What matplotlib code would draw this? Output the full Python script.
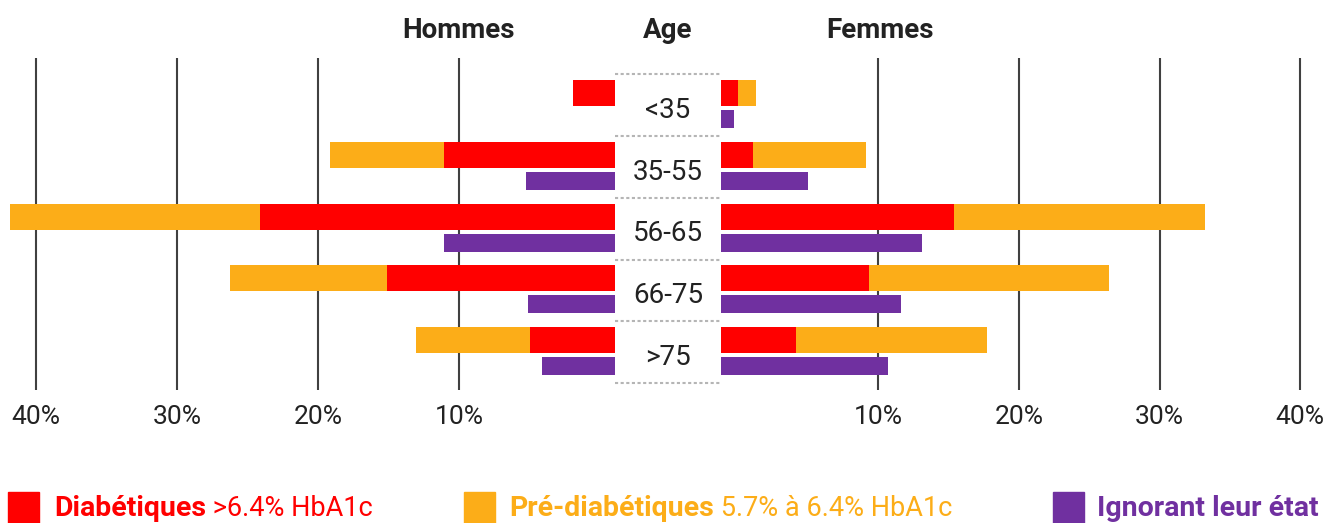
import numpy as np
import matplotlib
matplotlib.use('Agg')
import matplotlib.pyplot as plt
from matplotlib.patches import Rectangle

# donnees (longueur des barres en %)
ages = ['<35', '35-55', '56-65', '66-75', '>75']
hommes_diab = [3.0, 12.1, 25.2, 16.2, 6.0]
hommes_pre = [0.0, 8.1, 17.7, 11.1, 8.1]
hommes_ign = [0.0, 6.3, 12.1, 6.2, 5.2]
femmes_diab = [1.2, 2.3, 16.6, 10.5, 5.3]
femmes_pre = [1.3, 8.0, 17.8, 17.1, 13.6]
femmes_ign = [0.9, 6.2, 14.3, 12.8, 11.9]
ticks = [10, 20, 30, 40]
tick_labels = ['10%', '20%', '30%', '40%']

RED = '#FF0000'
ORANGE = '#FCAD18'
PURPLE = '#7030A0'
GRID = '#404040'
TXT = '#222222'

plt.rcParams['font.family'] = ['Roboto', 'DejaVu Sans']

W, H = 1326, 523
fig = plt.figure(figsize=(W / 100, H / 100), dpi=100)


def box(x0, x1, y0=58, y1=390):
    return [x0 / W, 1 - y1 / H, (x1 - x0) / W, (y1 - y0) / H]


axL = fig.add_axes(box(0, 615))
axC = fig.add_axes(box(615, 721))
axR = fig.add_axes(box(721, 1326))

y = np.arange(len(ages))
ymax = 332 / 61.75

# decalage de la grille par rapport au bord des barres
for ax, diab, pre, ign, shift in [(axL, hommes_diab, hommes_pre, hommes_ign, 1.06),
                                  (axR, femmes_diab, femmes_pre, femmes_ign, 1.19)]:
    ax.barh(y + 0.57, diab, height=0.42, color=RED, zorder=2)
    ax.barh(y + 0.57, pre, left=diab, height=0.42, color=ORANGE, zorder=2)
    ax.barh(y + 0.99, ign, height=0.29, color=PURPLE, zorder=2)
    for t in ticks:
        ax.axvline(t + shift, color=GRID, lw=1.5, zorder=1)
    ax.set_xticks([t + shift for t in ticks], tick_labels)
    ax.tick_params(axis='x', length=0, pad=11, labelsize=19, colors=TXT)
    ax.set_yticks([])
    ax.set_ylim(ymax, 0)
    for s in ax.spines.values():
        s.set_visible(False)
    ax.patch.set_alpha(0)

axL.set_xlim(615 / 14.1, 0)
axR.set_xlim(0, 605 / 14.06)

# colonne centrale des ages
axC.set_xlim(0, 1)
axC.set_ylim(ymax, 0)
axC.hlines(np.arange(len(ages) + 1) + 0.264, 0, 1, colors='#b5b5b5', lw=1.5,
           linestyles=(0, (1.5, 1.2)))
for i, a in enumerate(ages):
    axC.text(0.5, i + 0.85, a, ha='center', va='center', fontsize=20, color=TXT)
axC.axis('off')

# titres
for x, s in [(459, 'Hommes'), (668, 'Age'), (880, 'Femmes')]:
    fig.text(x / W, 1 - 30 / H, s, ha='center', va='center', fontsize=20,
             weight='bold', color=TXT)

# legende
leg = [(8, 54, RED, 'Diabétiques', ' >6.4% HbA1c'),
       (464, 509, ORANGE, 'Pré-diabétiques', ' 5.7% à 6.4% HbA1c'),
       (1053, 1097, PURPLE, 'Ignorant leur état', '')]
for xs, xt, c, bold, reg in leg:
    fig.add_artist(Rectangle((xs / W, 0), 31 / W, 31 / H, transform=fig.transFigure,
                             color=c))
    t = fig.text(xt / W, 1 - 508 / H, bold, ha='left', va='center', fontsize=20.5,
                 weight='bold', color=c)
    if reg:
        axL.annotate(reg, xy=(1, 0), xycoords=t, ha='left', va='bottom',
                     fontsize=19.5, color=c)

fig.savefig('out.png', dpi=100)
